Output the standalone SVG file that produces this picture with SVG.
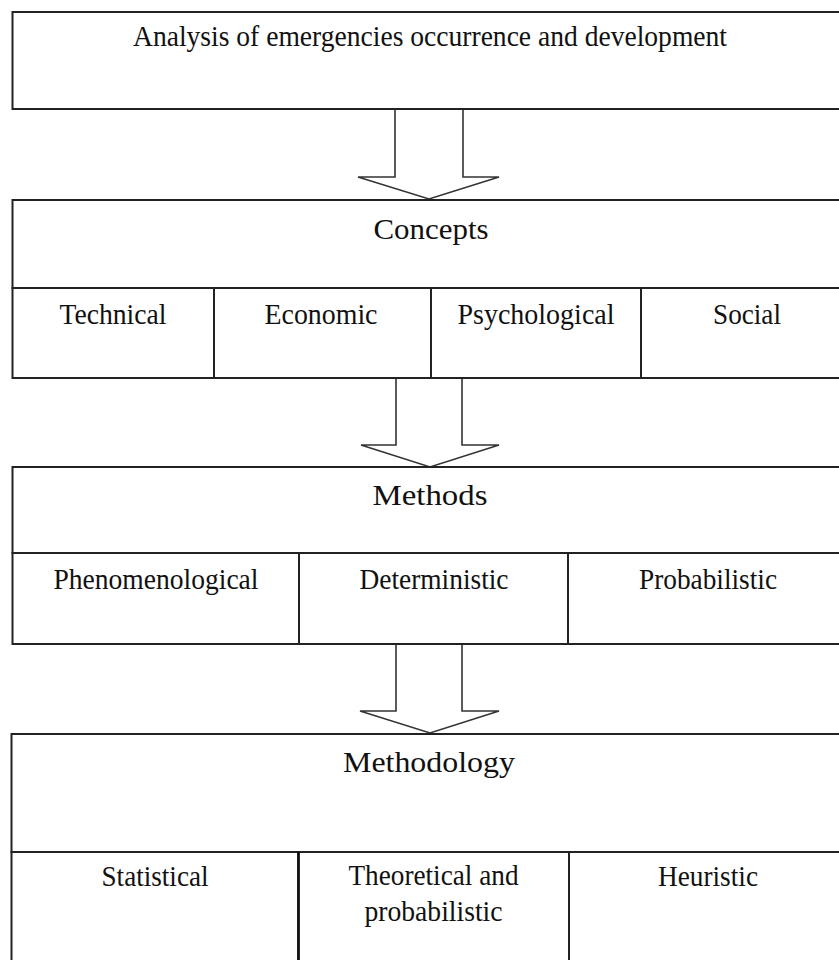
<svg xmlns="http://www.w3.org/2000/svg" width="839" height="960" viewBox="0 0 839 960">
<style>
  .box { fill: #ffffff; stroke: #222; stroke-width: 2; }
  .arrow { fill: #ffffff; stroke: #333; stroke-width: 1.6; stroke-linejoin: miter; }
  .t { font-family: "Liberation Serif", "Times New Roman", serif; font-size: 29px; fill: #111; text-anchor: middle; }
</style>
<rect x="0" y="0" width="839" height="960" fill="#ffffff"/>
<g id="connectors">
  <path class="arrow" d="M395,110 V177 H358 L429,199 L499,177 H463 V110"/>
  <path class="arrow" d="M396,378 V445 H361 L430,467 L499,445 H462 V378"/>
  <path class="arrow" d="M396,644 V711 H360 L430,733 L499,711 H462 V644"/>
</g>
<g id="analysis">
  <rect class="box" x="12.5" y="12" width="840" height="97"/>
  <text class="t" x="430" y="46" textLength="594" lengthAdjust="spacingAndGlyphs">Analysis of emergencies occurrence and development</text>
</g>
<g id="concepts">
  <rect class="box" x="12.5" y="200" width="840" height="88"/>
  <text class="t" x="431" y="239" textLength="115" lengthAdjust="spacingAndGlyphs">Concepts</text>
</g>
<g id="technical">
  <rect class="box" x="12.5" y="288" width="201.5" height="90"/>
  <text class="t" x="113" y="324" textLength="107" lengthAdjust="spacingAndGlyphs">Technical</text>
</g>
<g id="economic">
  <rect class="box" x="214" y="288" width="217" height="90"/>
  <text class="t" x="321" y="324" textLength="113" lengthAdjust="spacingAndGlyphs">Economic</text>
</g>
<g id="psychological">
  <rect class="box" x="431" y="288" width="210" height="90"/>
  <text class="t" x="536" y="324" textLength="157" lengthAdjust="spacingAndGlyphs">Psychological</text>
</g>
<g id="social">
  <rect class="box" x="641" y="288" width="211" height="90"/>
  <text class="t" x="747" y="324" textLength="68" lengthAdjust="spacingAndGlyphs">Social</text>
</g>
<g id="methods">
  <rect class="box" x="12.5" y="467" width="840" height="86"/>
  <text class="t" x="430" y="505" textLength="115" lengthAdjust="spacingAndGlyphs">Methods</text>
</g>
<g id="phenomenological">
  <rect class="box" x="12.5" y="553" width="286.5" height="91"/>
  <text class="t" x="156" y="589" textLength="205" lengthAdjust="spacingAndGlyphs">Phenomenological</text>
</g>
<g id="deterministic">
  <rect class="box" x="299" y="553" width="269" height="91"/>
  <text class="t" x="434" y="589" textLength="149" lengthAdjust="spacingAndGlyphs">Deterministic</text>
</g>
<g id="probabilistic">
  <rect class="box" x="568" y="553" width="284" height="91"/>
  <text class="t" x="708" y="589" textLength="138" lengthAdjust="spacingAndGlyphs">Probabilistic</text>
</g>
<g id="methodology">
  <rect class="box" x="11.5" y="734" width="841" height="118"/>
  <text class="t" x="429" y="772" textLength="172" lengthAdjust="spacingAndGlyphs">Methodology</text>
</g>
<g id="statistical">
  <rect class="box" x="11.5" y="852" width="287" height="115"/>
  <text class="t" x="155" y="886" textLength="107" lengthAdjust="spacingAndGlyphs">Statistical</text>
</g>
<g id="theoretical">
  <rect class="box" x="298.5" y="852" width="270.5" height="115"/>
  <line x1="298.5" y1="852" x2="298.5" y2="960" stroke="#111" stroke-width="2.6"/>
  <text class="t" x="433.5" y="885" textLength="170" lengthAdjust="spacingAndGlyphs">Theoretical and</text>
  <text class="t" x="433.5" y="921" textLength="138" lengthAdjust="spacingAndGlyphs">probabilistic</text>
</g>
<g id="heuristic">
  <rect class="box" x="569" y="852" width="283" height="115"/>
  <text class="t" x="708" y="886" textLength="100" lengthAdjust="spacingAndGlyphs">Heuristic</text>
</g>
</svg>
